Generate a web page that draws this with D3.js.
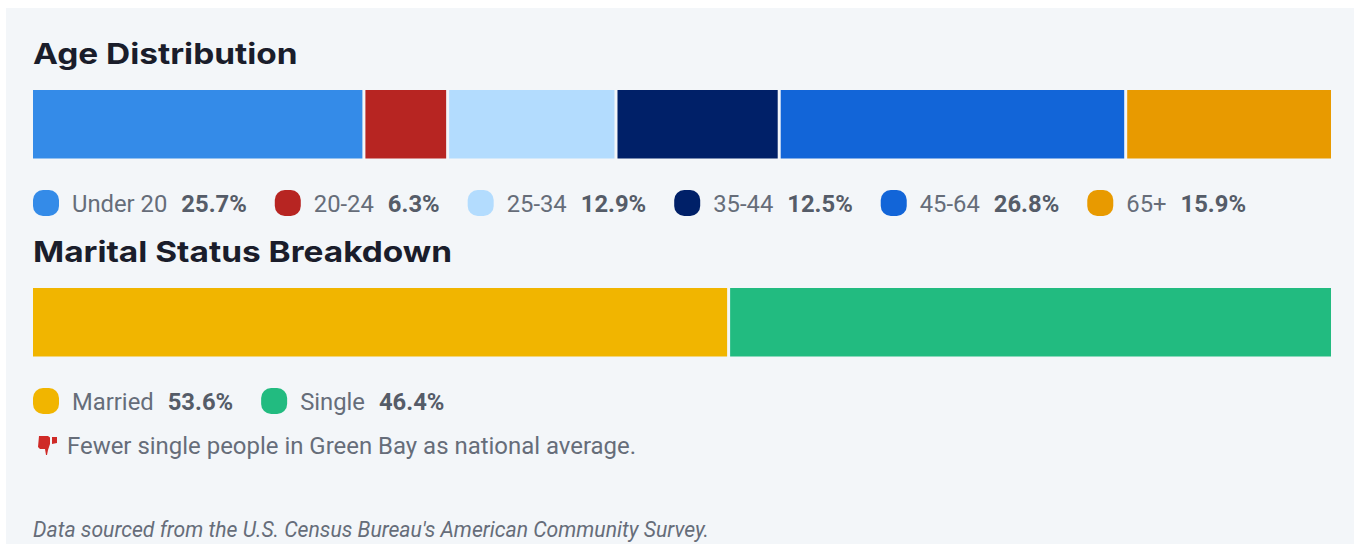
<!DOCTYPE html>
<html>
<head>
<meta charset="utf-8">
<script src="https://cdn.jsdelivr.net/npm/d3@7"></script>
<style>
  html, body { margin: 0; padding: 0; background: #fff; overflow: hidden; }
  svg { display: block; }
  text { font-family: Roboto, sans-serif; }
  .title { font-family: Inter, sans-serif; font-weight: 700; font-size: 29px; fill: #1a1d2b; }
  .lab { font-size: 23.8px; fill: #666d79; }
  .val { font-size: 23.8px; font-weight: 700; fill: #555c68; }
  .note { font-size: 23.95px; fill: #666d79; }
</style>
</head>
<body>
<script>
const ageLabels = ["Under 20", "20-24", "25-34", "35-44", "45-64", "65+"];
const ageValues = [25.7, 6.3, 12.9, 12.5, 26.8, 15.9];
const ageColors = ["#348be8", "#b72522", "#b3dcfe", "#002068", "#1265d8", "#e89a00"];

const maritalLabels = ["Married", "Single"];
const maritalValues = [53.6, 46.4];
const maritalColors = ["#f1b500", "#22bb80"];

const width = 1354, height = 544;
const left = 33, right = 1331, gap = 3;

const svg = d3.select("body").append("svg")
    .attr("width", width)
    .attr("height", height);

svg.append("rect")
    .attr("x", 6).attr("y", 8)
    .attr("width", width - 6).attr("height", height - 8)
    .attr("fill", "#f3f6f9");

function drawBlock(title, labels, values, colors, titleY, barY, legendY) {
    // Inter is narrower than the wide heading face, stretch it
    svg.append("text").attr("class", "title")
        .attr("transform", `translate(${left},${titleY}) scale(1.153,1)`)
        .text(title);

    // the gaps between segments come out of the bar's width
    const x = d3.scaleLinear()
        .domain([0, d3.sum(values)])
        .range([0, right - left - gap * (values.length - 1)]);
    const starts = d3.cumsum([0].concat(values));

    svg.append("g").selectAll("rect")
        .data(values)
        .join("rect")
        .attr("x", (d, i) => left + x(starts[i]) + i * gap)
        .attr("y", barY)
        .attr("width", d => x(d))
        .attr("height", 68.5)
        .attr("fill", (d, i) => colors[i]);

    // legend flows left to right, so measure each text
    let pos = left;
    values.forEach((v, i) => {
        const g = svg.append("g");
        g.append("rect")
            .attr("x", pos).attr("y", legendY - 22)
            .attr("width", 26).attr("height", 26)
            .attr("rx", 10)
            .attr("fill", colors[i]);
        pos += 39;
        const lab = g.append("text").attr("class", "lab")
            .attr("x", pos).attr("y", legendY).text(labels[i]);
        pos += lab.node().getComputedTextLength() + 14;
        const val = g.append("text").attr("class", "val")
            .attr("x", pos).attr("y", legendY).text(v.toFixed(1) + "%");
        pos += val.node().getComputedTextLength() + 28;
    });
}

drawBlock("Age Distribution", ageLabels, ageValues, ageColors, 64, 90, 212);
drawBlock("Marital Status Breakdown", maritalLabels, maritalValues, maritalColors, 262, 288, 410);

// thumbs down icon
svg.append("path")
    .attr("transform", "translate(38,436)")
    .attr("d", "M1 0 H10 L12 1.5 V8 L10 14 L9 19 H8 L7 13 H2 L0 11 Z M14 1 H19 V7 L14 8 Z")
    .attr("fill", "#cf2a27");

svg.append("text").attr("class", "note")
    .attr("x", 67).attr("y", 454)
    .text("Fewer single people in Green Bay as national average.");

svg.append("text")
    .attr("x", left).attr("y", 537)
    .attr("font-size", 21.2)
    .attr("font-style", "italic")
    .attr("fill", "#666d79")
    .text("Data sourced from the U.S. Census Bureau's American Community Survey.");
</script>
</body>
</html>
